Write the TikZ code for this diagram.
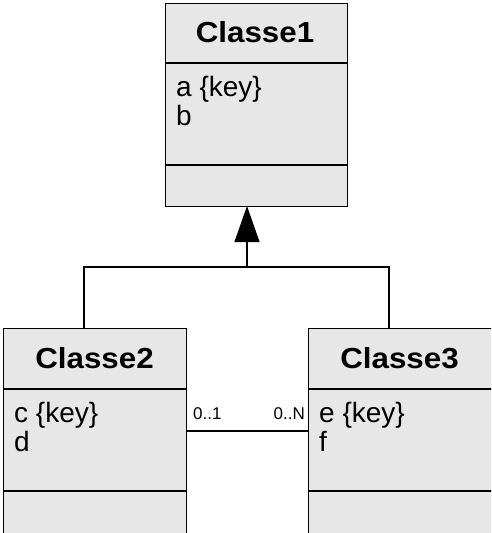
\documentclass[tikz,border=0pt]{standalone}
\usepackage{fontspec}
\setmainfont{Liberation Sans}
\newfontfamily\titlefont[FakeStretch=1.08]{Liberation Sans Bold}
\newfontfamily\attrfont{Liberation Sans}
\newfontfamily\multfont{Liberation Sans}
\usetikzlibrary{arrows.meta}
\definecolor{boxgray}{RGB}{231,231,231}
\tikzset{
  classbox/.style={draw=black, fill=boxgray, line width=1.1pt, rectangle, anchor=north west, inner sep=0pt, minimum width=182pt},
  sepline/.style={draw=black, line width=1.1pt},
  classtitle/.style={font=\titlefont\fontsize{29}{31}\selectfont, anchor=base, inner sep=0pt},
  attr/.style={font=\attrfont\fontsize{28}{30}\selectfont, anchor=base west, inner sep=0pt},
  mult/.style={font=\multfont\fontsize{17}{19}\selectfont, inner sep=0pt},
  conn/.style={draw=black, line width=1.1pt},
  inh/.style={conn, -{Triangle[width=25pt,length=36pt]}}
}
\begin{document}
\begin{tikzpicture}[x=1pt,y=-1pt]
\useasboundingbox (0,0) rectangle (492,533);
\fill[white] (0,0) rectangle (492,533);
\clip (0,0) rectangle (491,533);
% Classe1
\node[classbox, minimum height=203pt] (c1) at (165,2.5) {};
\draw[sepline] (165,63) -- (347,63);
\draw[sepline] (165,165) -- (347,165);
\node[classtitle] (t1) at (255,42) {Classe1};
\node[attr] (a1) at (176,96) {a \{key\}};
\node[attr] (b1) at (176,125) {b};
% Classe2
\node[classbox, minimum width=183pt, minimum height=240pt] (c2) at (3,328) {};
\draw[sepline] (3,389) -- (186,389);
\draw[sepline] (3,491) -- (186,491);
\node[classtitle] (t2) at (94.5,368) {Classe2};
\node[attr] (a2) at (14,422) {c \{key\}};
\node[attr] (b2) at (14,451) {d};
% Classe3
\node[classbox, minimum width=184pt, minimum height=240pt] (c3) at (308,328) {};
\draw[sepline] (308,389) -- (492,389);
\draw[sepline] (308,491) -- (492,491);
\node[classtitle] (t3) at (399.5,368) {Classe3};
\node[attr] (a3) at (319,422) {e \{key\}};
\node[attr] (b3) at (319,451) {f};
% inheritance
\coordinate (j) at (247,267);
\coordinate (jtip) at (247,206);
\coordinate (jl) at (84,267);
\coordinate (jr) at (389,267);
\coordinate (d2) at (84,328);
\coordinate (d3) at (389,328);
\draw[inh] (j) -- (jtip);
\draw[conn] (d2) -- (jl) -- (jr) -- (d3);
% association
\coordinate (e2) at (186,431);
\coordinate (e3) at (308,431);
\draw[conn] (e2) -- (e3);
\node[mult, anchor=base west] (m1) at (193,419) {0..1};
\node[mult, anchor=base east] (m2) at (305,419) {0..N};
\end{tikzpicture}
\end{document}
